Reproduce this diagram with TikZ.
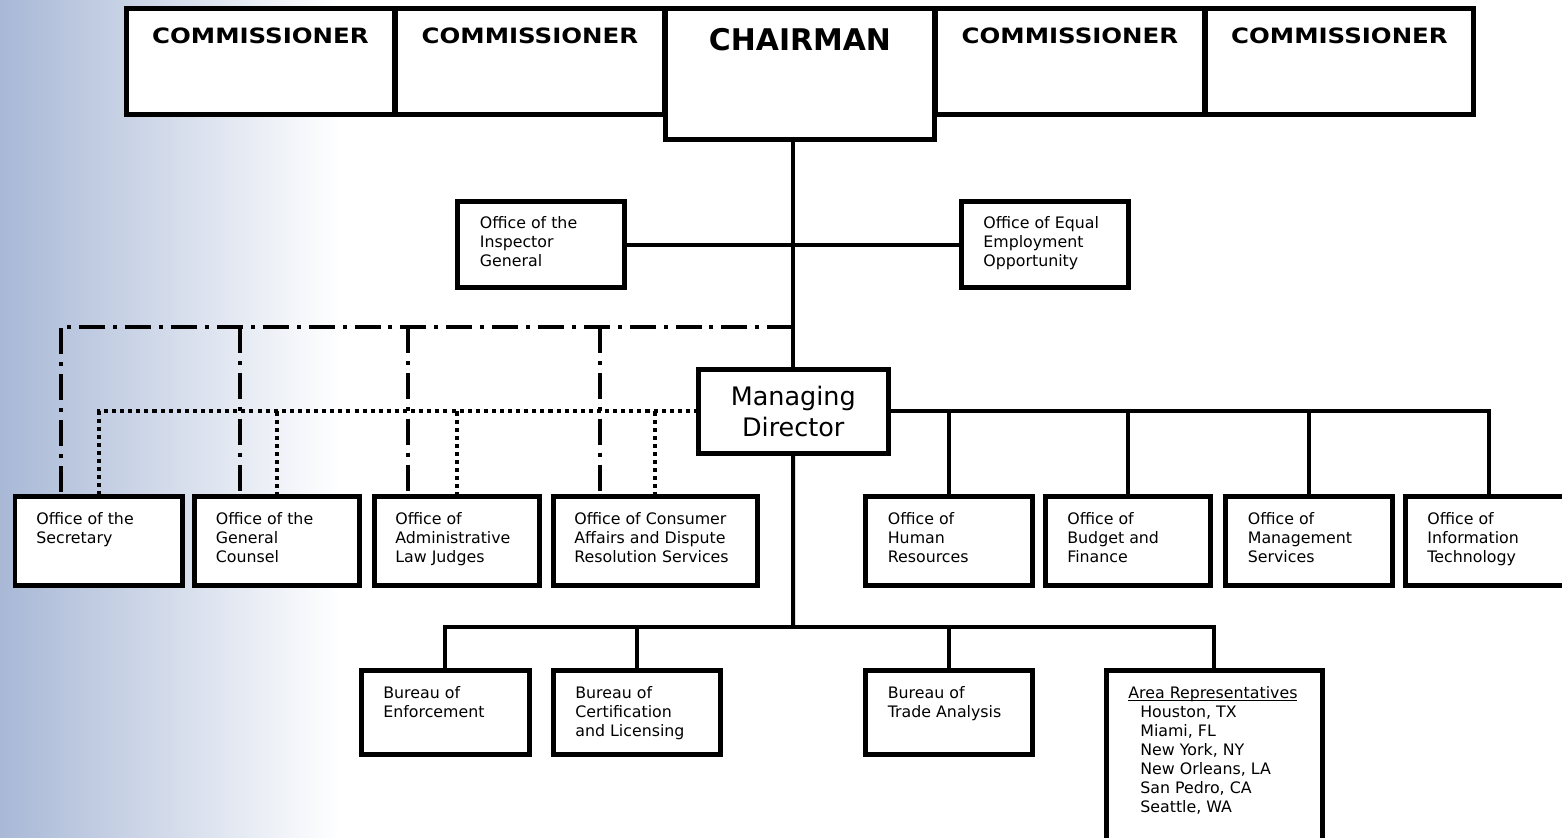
\documentclass[tikz,border=0pt]{standalone}
\usepackage{fontspec}
\setmainfont{DejaVu Sans}
\newfontfamily\widebold{DejaVu Sans Bold}[FakeStretch=1.16]
\definecolor{fadeblue}{RGB}{168,184,214}
\newcommand{\arealine}[1]{\setbox0\hbox{#1}\rlap{\rule[-1.3pt]{\wd0}{0.5pt}}\box0}
\tikzset{
  unit/.style={draw,line width=0.1cm,fill=white,anchor=north west,inner sep=0pt,outer sep=0pt},
  otext/.style={anchor=north west,align=left,inner sep=0pt,font=\fontsize{9}{10.8}\selectfont},
  ctext/.style={anchor=north,inner sep=0pt,font=\widebold\fontsize{12}{15}\selectfont},
  link/.style={line width=0.08cm},
  dashdotline/.style={line width=0.08cm,dash pattern=on 14.8pt off 4.5pt on 2.3pt off 4.5pt},
  dotline/.style={line width=0.08cm,dash pattern=on 2.3pt off 2.3pt}
}

\begin{document}
\begin{tikzpicture}[x=0.02cm,y=-0.02cm]
        \useasboundingbox(0,0)rectangle(1562,838);
        \clip(0,0)rectangle(1562,838);
        \shade[left color=fadeblue,right color=white](0,0)rectangle(340,838);
        % top row
        \node(com1)at(126,8.5)[unit,minimum width=5.38cm,minimum height=2.12cm]{};
        \node(com2)at(395,8.5)[unit,minimum width=5.4cm,minimum height=2.12cm]{};
        \node(com3)at(935,8.5)[unit,minimum width=5.4cm,minimum height=2.12cm]{};
        \node(com4)at(1205,8.5)[unit,minimum width=5.38cm,minimum height=2.12cm]{};
        \node(chair)at(665,8.5)[unit,minimum width=5.4cm,minimum height=2.62cm]{};
        \node(com1t)at([yshift=-0.39cm]com1.north)[ctext]{COMMISSIONER};
        \node(com2t)at([yshift=-0.39cm]com2.north)[ctext]{COMMISSIONER};
        \node(com3t)at([yshift=-0.39cm]com3.north)[ctext]{COMMISSIONER};
        \node(com4t)at([yshift=-0.39cm]com4.north)[ctext]{COMMISSIONER};
        \node(chairt)at([yshift=-0.39cm]chair.north)[ctext,font=\bfseries\fontsize{17}{20}\selectfont]{CHAIRMAN};
        % staff offices
        \node(ig)at(457.5,201.5)[unit,minimum width=3.35cm,minimum height=1.73cm]{};
        \node(igt)at([shift={(0.44cm,-0.3cm)}]ig.north west)[otext]{Office of the\\Inspector\\General};
        \node(eeo)at(961,201.5)[unit,minimum width=3.36cm,minimum height=1.73cm]{};
        \node(eeot)at([shift={(0.44cm,-0.3cm)}]eeo.north west)[otext]{Office of Equal\\Employment\\Opportunity};
        \node(md)at(698,369.5)[unit,minimum width=3.81cm,minimum height=1.68cm,align=center,
          font=\fontsize{14.5}{18}\selectfont]{Managing\\Director};
        % left row
        \node(sec)at(15,496)[unit,minimum width=3.36cm,minimum height=1.8cm]{};
        \node(gc)at(194.5,496)[unit,minimum width=3.3cm,minimum height=1.8cm]{};
        \node(alj)at(374,496)[unit,minimum width=3.31cm,minimum height=1.8cm]{};
        \node(ca)at(553,496)[unit,minimum width=4.1cm,minimum height=1.8cm]{};
        \node(sect)at([shift={(0.42cm,-0.32cm)}]sec.north west)[otext]{Office of the\\Secretary};
        \node(gct)at([shift={(0.42cm,-0.32cm)}]gc.north west)[otext]{Office of the\\General\\Counsel};
        \node(aljt)at([shift={(0.42cm,-0.32cm)}]alj.north west)[otext]{Office of\\Administrative\\Law Judges};
        \node(cat)at([shift={(0.42cm,-0.32cm)}]ca.north west)[otext]{Office of Consumer\\Affairs and Dispute\\Resolution Services};
        % right row
        \node(hr)at(865.5,496)[unit,minimum width=3.34cm,minimum height=1.8cm]{};
        \node(bud)at(1045,496)[unit,minimum width=3.32cm,minimum height=1.8cm]{};
        \node(mgmt)at(1225.5,496)[unit,minimum width=3.34cm,minimum height=1.8cm]{};
        \node(it)at(1405,496)[unit,minimum width=3.36cm,minimum height=1.8cm]{};
        \node(hrt)at([shift={(0.44cm,-0.32cm)}]hr.north west)[otext]{Office of\\Human\\Resources};
        \node(budt)at([shift={(0.44cm,-0.32cm)}]bud.north west)[otext]{Office of\\Budget and\\Finance};
        \node(mgmtt)at([shift={(0.44cm,-0.32cm)}]mgmt.north west)[otext]{Office of\\Management\\Services};
        \node(itt)at([shift={(0.44cm,-0.32cm)}]it.north west)[otext]{Office of\\Information\\Technology};
        % bureaus
        \node(enf)at(361.5,670)[unit,minimum width=3.36cm,minimum height=1.69cm]{};
        \node(cert)at(553.5,670)[unit,minimum width=3.34cm,minimum height=1.69cm]{};
        \node(trade)at(865.5,670)[unit,minimum width=3.34cm,minimum height=1.69cm]{};
        \node(area)at(1106.5,670)[unit,minimum width=4.32cm,minimum height=3.8cm]{};
        \node(enft)at([shift={(0.43cm,-0.32cm)}]enf.north west)[otext]{Bureau of\\Enforcement};
        \node(certt)at([shift={(0.43cm,-0.32cm)}]cert.north west)[otext]{Bureau of\\Certification\\and Licensing};
        \node(tradet)at([shift={(0.44cm,-0.32cm)}]trade.north west)[otext]{Bureau of\\Trade Analysis};
        \node(areat)at([shift={(0.43cm,-0.32cm)}]area.north west)[otext]{\arealine{Area Representatives}\\
          \hspace*{0.24cm}Houston, TX\\\hspace*{0.24cm}Miami, FL\\\hspace*{0.24cm}New York, NY\\
          \hspace*{0.24cm}New Orleans, LA\\\hspace*{0.24cm}San Pedro, CA\\\hspace*{0.24cm}Seattle, WA};
        % junctions
        \coordinate(dd1)at(61,327);
        \coordinate(dd2)at(240,327);
        \coordinate(dd3)at(408,327);
        \coordinate(dd4)at(600,327);
        \coordinate(bj)at(793,627);
        % connectors
        \draw[link](md.north|-chair.south)--(md.north);
        \draw[link](ig.east)--(eeo.west);
        \draw[dashdotline](md.north|-dd1)--(dd1)--(dd1|-sec.north);
        \draw[dashdotline](dd2)--(dd2|-gc.north);
        \draw[dashdotline](dd3)--(dd3|-alj.north);
        \draw[dashdotline](dd4)--(dd4|-ca.north);
        \draw[dotline](md.west)-|(sec.north);
        \draw[dotline](gc.north|-md.west)--(gc.north);
        \draw[dotline](alj.north|-md.west)--(alj.north);
        \draw[dotline](ca.north|-md.west)--(ca.north);
        \draw[link](md.east)-|(it.north);
        \draw[link](hr.north|-md.east)--(hr.north);
        \draw[link](bud.north|-md.east)--(bud.north);
        \draw[link](mgmt.north|-md.east)--(mgmt.north);
        \draw[link](md.south)--(bj);
        \draw[link](enf.north)|-(bj)-|(area.north);
        \draw[link](cert.north|-bj)--(cert.north);
        \draw[link](trade.north|-bj)--(trade.north);
    \end{tikzpicture}
\end{document}
